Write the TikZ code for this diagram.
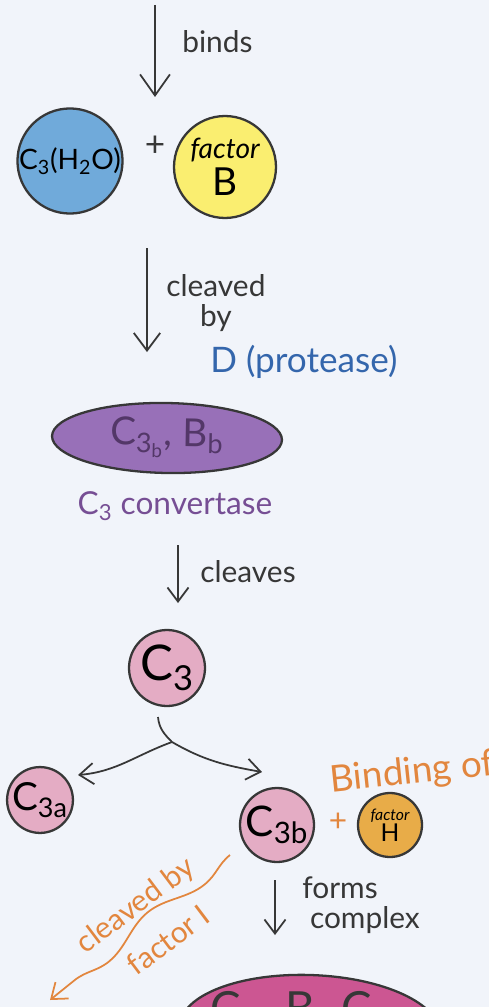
\documentclass[tikz,border=0pt]{standalone}
\usepackage{fontspec}
\setmainfont{Lato}
\usetikzlibrary{arrows.meta,decorations.pathmorphing,positioning,shapes.geometric}
\definecolor{paper}{RGB}{241,244,250}
\definecolor{inkgrey}{RGB}{55,55,55}
\definecolor{waterblue}{RGB}{112,170,218}
\definecolor{lemon}{RGB}{250,238,112}
\definecolor{lilac}{RGB}{152,112,184}
\definecolor{lilacink}{RGB}{118,78,148}
\definecolor{rosepink}{RGB}{228,172,196}
\definecolor{amber}{RGB}{232,172,72}
\definecolor{orangeink}{RGB}{226,134,62}
\definecolor{proteaseblue}{RGB}{52,102,172}
\definecolor{magentafill}{RGB}{204,86,146}

\tikzset{
  cell/.style={circle, draw=inkgrey, line width=1.3pt, inner sep=0pt, align=center},
  blob/.style={ellipse, draw=inkgrey, line width=1.3pt, inner sep=0pt},
  flow/.style={draw=inkgrey, line width=1pt, -{Straight Barb[length=10pt,width=15pt]}},
  lbl/.style={font=\fontsize{17}{17}\selectfont, align=left, text=inkgrey, inner sep=0pt},
}

\begin{document}
\begin{tikzpicture}[x=0.02cm, y=-0.02cm]
  \useasboundingbox (0,0) rectangle (489,1007);
  \fill[paper] (0,0) rectangle (489,1007);
  \clip (0,0) rectangle (489,1007);

  % C3(H2O) + factor B
  \coordinate (start) at (155,5);
  \coordinate (bindsend) at (155,97);
  \draw[flow, -{Straight Barb[length=12pt,width=17pt]}] (start) -- (bindsend);
  \node[lbl, anchor=west] (binds) at (182,42) {binds};
  \node[cell, fill=waterblue, minimum size=2.08cm, font=\fontsize{16}{16}\selectfont] (h2o) at (70,161) {C\textsubscript{3}(H\textsubscript{2}O)};
  \node[font=\fontsize{20}{20}\selectfont, text=inkgrey] (plus) at (155,146) {+};
  \node[cell, fill=lemon, minimum size=2.04cm] (facB) at (225,167)
    {{\fontsize{16}{18}\selectfont\itshape factor}\\[2pt]{\fontsize{22}{22}\selectfont B}};

  % cleaved by D
  \coordinate (cutA) at (147,248);
  \coordinate (cutB) at (147,352);
  \draw[flow] (cutA) -- (cutB);
  \node[lbl, anchor=west, align=center] (cleavedby) at (166,303) {cleaved\\by};
  \node[lbl, anchor=west, text=proteaseblue, font=\fontsize{20}{20}\selectfont] (protease) at (210,362) {D (protease)};

  % convertase
  \node[blob, fill=lilac, minimum width=4.6cm, minimum height=1.4cm, rotate=-1,
        text=lilacink!70!black, font=\fontsize{22}{22}\selectfont] (conv) at (167,438)
    {C\textsubscript{3\textsubscript{b}}, B\textsubscript{b}};
  \node[lbl, text=lilacink, font=\fontsize{18}{18}\selectfont] (convname) at (175,506)
    {C\textsubscript{3} convertase};

  \coordinate (cvA) at (178,545);
  \coordinate (cvB) at (178,603);
  \draw[flow, -{Straight Barb[length=8pt,width=12pt]}] (cvA) -- (cvB);
  \node[lbl, anchor=west] (cleaves) at (200,572) {cleaves};

  \node[cell, fill=rosepink, minimum size=1.52cm, font=\fontsize{28}{28}\selectfont] (c3) at (167,668)
    {C\textsubscript{3}};

  % split into C3a and C3b
  \coordinate (stem) at (158,717);
  \coordinate (split) at (172,742);
  \coordinate (tipA) at (78,775);
  \coordinate (tipB) at (262,772);
  \draw[draw=inkgrey, line width=1pt] (stem) to[out=-85, in=135] (split);
  \draw[flow, -{Straight Barb[length=8pt,width=12pt]}] (split) to[out=200, in=5] (tipA);
  \draw[flow, -{Straight Barb[length=8pt,width=12pt]}] (split) to[out=-30, in=170] (tipB);

  \node[cell, fill=rosepink, minimum size=1.28cm, font=\fontsize{22}{22}\selectfont] (c3a) at (40,800)
    {C\textsubscript{3a}};
  \node[cell, fill=rosepink, minimum size=1.48cm, font=\fontsize{24}{24}\selectfont] (c3b) at (277,825)
    {C\textsubscript{3b}};
  \node[text=orangeink, font=\fontsize{18}{18}\selectfont] (plusH) at (338,822) {+};
  \node[cell, fill=amber, minimum size=1.28cm] (facH) at (390,825)
    {{\fontsize{9}{10}\selectfont\itshape factor}\\{\fontsize{14}{14}\selectfont H}};
  \node[lbl, anchor=west, text=orangeink, rotate=6, font=\fontsize{21}{21}\selectfont] (bindof) at (330,782)
    {Binding of};

  % complex
  \coordinate (cxA) at (275,880);
  \coordinate (cxB) at (275,935);
  \draw[flow, -{Straight Barb[length=8pt,width=12pt]}] (cxA) -- (cxB);
  \node[lbl, anchor=west] (complex) at (302,905) {forms\\\ complex};

  % factor I path
  \coordinate (waveA) at (230,855);
  \coordinate (waveB) at (50,1000);
  \draw[draw=orangeink, line width=1pt, -{Straight Barb[length=8pt,width=12pt]},
        decorate, decoration={snake, amplitude=4pt, segment length=70pt, post length=10pt}]
    (waveA) -- (waveB);
  \node[lbl, text=orangeink, rotate=37] (cleavedI) at (136,906) {cleaved by};
  \node[lbl, text=orangeink, rotate=37] (factorI) at (168,940) {factor I};

  \node[blob, fill=magentafill, minimum width=5.2cm, minimum height=2.2cm, rotate=-2] (cxnode) at (310,1030) {};
  \node[lbl, font=\fontsize{26}{26}\selectfont] (cxname) at (310,1012)
    {C\textsubscript{3b}\,B\textsubscript{b}\,C\textsubscript{3b}};
\end{tikzpicture}
\end{document}
